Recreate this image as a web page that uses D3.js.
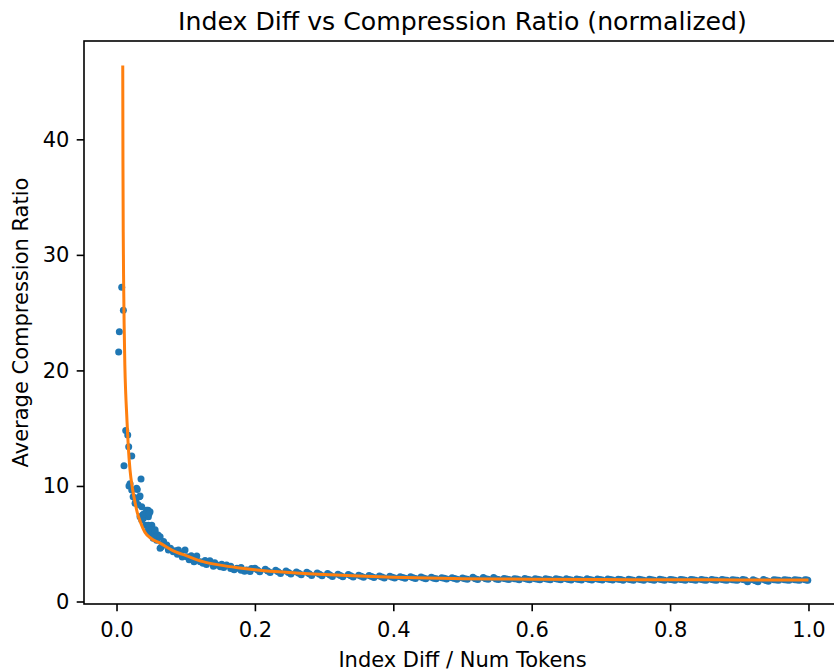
<!DOCTYPE html>
<html>
<head>
<meta charset="utf-8">
<script src="https://cdn.jsdelivr.net/npm/d3@7"></script>
<style>
  body { margin: 0; background: #fff; }
  svg { display: block; font-family: "DejaVu Sans", sans-serif; }
</style>
</head>
<body>
<div id="display"></div>
<script>
// Values
const chartTitle = 'Index Diff vs Compression Ratio (normalized)';
const xLabel = 'Index Diff / Num Tokens';
const yLabel = 'Average Compression Ratio';
const xTicks = [0, 0.2, 0.4, 0.6, 0.8, 1.0];
const yTicks = [0, 10, 20, 30, 40];

// scatter points, [index diff / num tokens, average compression ratio]
const headPoints = [
    [0.0031, 21.6], [0.0041, 23.35], [0.0075, 27.2], [0.0099, 25.2],
    [0.0108, 11.75], [0.0133, 14.8], [0.0162, 14.4], [0.0176, 13.4],
    [0.022, 12.6], [0.0354, 10.6], [0.0195, 10.2], [0.018, 10.0],
    [0.030, 9.7], [0.022, 9.65], [0.029, 9.8], [0.024, 9.07],
    [0.033, 9.07], [0.034, 9.13], [0.0268, 8.5], [0.0364, 8.2],
    [0.031, 8.4], [0.028, 8.8], [0.034, 7.34], [0.0364, 7.05], [0.038, 7.5]
];
const kneePoints = [
    [0.0436, 7.9], [0.0455, 7.9], [0.0484, 7.77], [0.0388, 7.2], [0.046, 7.34],
    [0.051, 6.6], [0.042, 6.6], [0.045, 6.1], [0.048, 5.9], [0.050, 6.0],
    [0.040, 7.6], [0.047, 7.6], [0.046, 6.6], [0.051, 6.2], [0.0557, 6.04],
    [0.0557, 6.2], [0.053, 5.47], [0.058, 5.3], [0.060, 5.75], [0.063, 5.6],
    [0.063, 4.6], [0.065, 4.74], [0.068, 5.2], [0.0726, 4.9], [0.075, 4.45],
    [0.078, 4.6], [0.082, 4.3], [0.085, 4.4], [0.088, 4.1], [0.092, 4.2],
    [0.0894, 4.46], [0.099, 4.46], [0.1015, 3.88], [0.116, 3.94], [0.121, 3.44],
    [0.135, 3.53], [0.145, 3.16], [0.159, 3.16], [0.174, 2.87], [0.188, 2.73],
    [0.095, 3.85], [0.105, 3.62], [0.110, 3.7], [0.112, 3.45], [0.125, 3.3],
    [0.130, 3.2], [0.140, 3.05], [0.150, 3.0], [0.155, 2.95], [0.165, 2.85],
    [0.170, 2.75], [0.180, 2.7], [0.185, 2.62], [0.193, 2.6], [0.108, 3.95],
    [0.128, 3.55], [0.142, 3.35], [0.152, 3.22], [0.165, 3.05], [0.180, 2.95],
    [0.195, 2.85]
];
const tailUpper = [
    [0.200, 2.87], [0.215, 2.80], [0.230, 2.71], [0.245, 2.65], [0.260, 2.56],
    [0.275, 2.53], [0.290, 2.47], [0.305, 2.43], [0.320, 2.36], [0.335, 2.34],
    [0.350, 2.28], [0.365, 2.26], [0.380, 2.21], [0.395, 2.19], [0.410, 2.15],
    [0.425, 2.14], [0.440, 2.11], [0.455, 2.10], [0.470, 2.06], [0.485, 2.06],
    [0.500, 2.03], [0.515, 2.10], [0.530, 2.08], [0.545, 2.08], [0.560, 2.00],
    [0.575, 1.98], [0.590, 1.99], [0.605, 1.97], [0.620, 1.97], [0.635, 1.97],
    [0.650, 1.96], [0.665, 1.95], [0.680, 1.96], [0.695, 1.94], [0.710, 1.94],
    [0.725, 1.93], [0.740, 1.93], [0.755, 1.93], [0.770, 1.92], [0.785, 1.92],
    [0.800, 1.91], [0.815, 1.91], [0.830, 1.91], [0.845, 1.90], [0.860, 1.90],
    [0.875, 1.90], [0.890, 1.89], [0.905, 1.90], [0.920, 1.89], [0.935, 1.90],
    [0.950, 1.89], [0.965, 1.88], [0.980, 1.89], [0.995, 1.88]
];
const tailMiddle = [
    [0.2035, 2.73], [0.2185, 2.65], [0.2335, 2.58], [0.2485, 2.51], [0.2635, 2.45],
    [0.2785, 2.40], [0.2935, 2.35], [0.3085, 2.30], [0.3235, 2.26], [0.3385, 2.22],
    [0.3535, 2.19], [0.3685, 2.16], [0.3835, 2.13], [0.3985, 2.10], [0.4135, 2.08],
    [0.4285, 2.06], [0.4435, 2.04], [0.4585, 2.02], [0.4735, 2.01], [0.4885, 1.99],
    [0.5035, 1.98], [0.5185, 1.97], [0.5335, 1.96], [0.5485, 1.95], [0.5635, 1.95],
    [0.5785, 1.94], [0.5935, 1.93], [0.6085, 1.93], [0.6235, 1.92], [0.6385, 1.92],
    [0.6535, 1.91], [0.6685, 1.91], [0.6835, 1.91], [0.6985, 1.90], [0.7135, 1.90],
    [0.7285, 1.90], [0.7435, 1.89], [0.7585, 1.89], [0.7735, 1.89], [0.7885, 1.88],
    [0.8035, 1.88], [0.8185, 1.88], [0.8335, 1.88], [0.8485, 1.87], [0.8635, 1.87],
    [0.8785, 1.87], [0.8935, 1.87], [0.9085, 1.86], [0.9235, 1.80], [0.9385, 1.82],
    [0.9535, 1.86], [0.9685, 1.86], [0.9835, 1.86], [0.9975, 1.86]
];
const tailLower = [
    [0.207, 2.58], [0.222, 2.51], [0.237, 2.43], [0.252, 2.38], [0.267, 2.32],
    [0.282, 2.26], [0.297, 2.22], [0.312, 2.17], [0.327, 2.15], [0.342, 2.11],
    [0.357, 2.09], [0.372, 2.07], [0.387, 2.04], [0.402, 2.03], [0.417, 2.01],
    [0.432, 1.99], [0.447, 1.98], [0.462, 1.96], [0.477, 1.95], [0.492, 1.93],
    [0.507, 1.92], [0.522, 1.91], [0.537, 1.92], [0.552, 1.90], [0.567, 1.90],
    [0.582, 1.89], [0.597, 1.89], [0.612, 1.88], [0.627, 1.88], [0.642, 1.88],
    [0.657, 1.87], [0.672, 1.86], [0.687, 1.87], [0.702, 1.86], [0.717, 1.86],
    [0.732, 1.85], [0.747, 1.85], [0.762, 1.85], [0.777, 1.85], [0.792, 1.85],
    [0.807, 1.84], [0.822, 1.85], [0.837, 1.84], [0.852, 1.84], [0.867, 1.84],
    [0.882, 1.83], [0.897, 1.84], [0.912, 1.72], [0.927, 1.71], [0.942, 1.75],
    [0.957, 1.83], [0.972, 1.83], [0.987, 1.83], [0.999, 1.84]
];

// fitted curve (orange), read point by point
const fitCurve = [
    [0.0090, 46.4], [0.0093, 38], [0.0097, 32], [0.0103, 27.5], [0.0110, 24],
    [0.0120, 20.5], [0.0133, 18], [0.0147, 16.2], [0.0170, 13.4], [0.0195, 11.4],
    [0.023, 9.8], [0.027, 8.5], [0.030, 7.7], [0.035, 6.8], [0.041, 6.0],
    [0.050, 5.45], [0.063, 5.05], [0.080, 4.45], [0.1015, 3.95], [0.125, 3.45],
    [0.150, 3.15], [0.175, 2.93], [0.200, 2.75], [0.250, 2.5], [0.300, 2.33],
    [0.350, 2.2], [0.400, 2.1], [0.450, 2.03], [0.500, 1.98], [0.600, 1.93],
    [0.700, 1.90], [0.800, 1.88], [0.900, 1.87], [1.000, 1.86]
];

const scatterData = headPoints.concat(kneePoints, tailUpper, tailMiddle, tailLower);

const width = 834;
const height = 671;
const plot = { left: 84, top: 41, right: 841, bottom: 604 };

const x = d3.scaleLinear().domain([-0.047, 1.047]).range([plot.left, plot.right]);
const y = d3.scaleLinear().domain([-0.216, 48.51]).range([plot.bottom, plot.top]);

const svg = d3.select('#display').append('svg')
    .attr('width', width)
    .attr('height', height);

// scatter dots first, curve goes on top
svg.append('g')
    .selectAll('circle')
    .data(scatterData)
    .enter()
    .append('circle')
    .attr('cx', d => x(d[0]))
    .attr('cy', d => y(d[1]))
    .attr('r', 3.5)
    .attr('fill', '#1f77b4');

const line = d3.line()
    .x(d => x(d[0]))
    .y(d => y(d[1]))
    .curve(d3.curveMonotoneX);

svg.append('path')
    .datum(fitCurve)
    .attr('d', line)
    .attr('fill', 'none')
    .attr('stroke', '#ff7f0e')
    .attr('stroke-width', 3);

// axes
const xAxis = svg.append('g')
    .attr('transform', `translate(0,${plot.bottom})`)
    .call(d3.axisBottom(x).tickValues(xTicks).tickFormat(d3.format('.1f')).tickSize(7.3).tickPadding(11));
const yAxis = svg.append('g')
    .attr('transform', `translate(${plot.left},0)`)
    .call(d3.axisLeft(y).tickValues(yTicks).tickFormat(d3.format('d')).tickSize(7.3).tickPadding(7.3));

[xAxis, yAxis].forEach(function (g) {
    g.select('.domain').remove();
    g.selectAll('.tick line').attr('stroke', '#000').attr('stroke-width', 1.6);
    g.selectAll('.tick text')
        .attr('fill', '#000')
        .style('font-size', '21px')
        .style('font-family', '"DejaVu Sans", sans-serif');
});

// frame (right edge sits just past the window)
svg.append('rect')
    .attr('x', plot.left)
    .attr('y', plot.top)
    .attr('width', plot.right - plot.left)
    .attr('height', plot.bottom - plot.top)
    .attr('fill', 'none')
    .attr('stroke', '#000')
    .attr('stroke-width', 1.6);

svg.append('text')
    .attr('x', (plot.left + plot.right) / 2)
    .attr('y', 30)
    .attr('text-anchor', 'middle')
    .style('font-size', '25.2px')
    .text(chartTitle);

svg.append('text')
    .attr('x', (plot.left + plot.right) / 2)
    .attr('y', 667)
    .attr('text-anchor', 'middle')
    .style('font-size', '21px')
    .text(xLabel);

svg.append('text')
    .attr('transform', `translate(28,${(plot.top + plot.bottom) / 2}) rotate(-90)`)
    .attr('text-anchor', 'middle')
    .style('font-size', '21px')
    .text(yLabel);
</script>
</body>
</html>
